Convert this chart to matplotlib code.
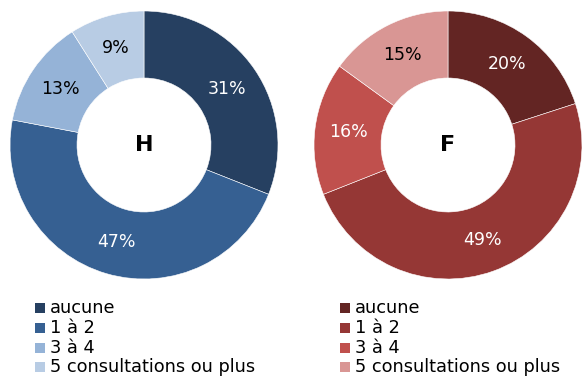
import matplotlib
matplotlib.use("Agg")
import matplotlib.pyplot as plt
from matplotlib.patches import Rectangle

categories = ["aucune", "1 à 2", "3 à 4", "5 consultations ou plus"]
values_h = [31, 47, 13, 9]
values_f = [20, 49, 16, 15]
colors_h = ["#264061", "#366092", "#95B3D7", "#B8CCE4"]
colors_f = ["#632523", "#953735", "#C0504D", "#D99694"]
label_colors_h = ["white", "white", "black", "black"]
label_colors_f = ["white", "white", "white", "black"]

W, H = 583, 378
fig = plt.figure(figsize=(W / 100, H / 100), dpi=100)
font = "DejaVu Sans"

R = 134  # outer radius in pixels


def donut(cx, cy, values, colors, label_colors, title):
    ax = fig.add_axes([(cx - R) / W, (H - cy - R) / H, 2 * R / W, 2 * R / H])
    wedges, texts, autotexts = ax.pie(
        values, colors=colors, startangle=90, counterclock=False,
        radius=1.0, autopct=lambda p: f"{p:.0f}%", pctdistance=0.75,
        wedgeprops=dict(width=0.5, edgecolor="white", linewidth=0.4),
        textprops=dict(fontsize=12.5, family=font))
    for t, c in zip(autotexts, label_colors):
        t.set_color(c)
    ax.text(0, 0, title, ha="center", va="center", fontsize=16,
            fontweight="bold", family=font, color="black")
    ax.set_xlim(-1, 1)
    ax.set_ylim(-1, 1)
    ax.set_aspect("equal")
    ax.axis("off")


donut(144, 145, values_h, colors_h, label_colors_h, "H")
donut(448, 145, values_f, colors_f, label_colors_f, "F")


def legend(x0, colors):
    baselines = [313, 333, 353, 372]
    for y, c, lab in zip(baselines, colors, categories):
        fig.patches.append(Rectangle((x0 / W, (H - y) / H), 10 / W, 10 / H,
                                     transform=fig.transFigure, facecolor=c,
                                     edgecolor="none"))
        fig.text((x0 + 15) / W, (H - y) / H, lab, ha="left", va="baseline",
                 fontsize=12.75, family=font, color="black")


legend(35, colors_h)
legend(340, colors_f)

fig.savefig("out.png", dpi=100)
